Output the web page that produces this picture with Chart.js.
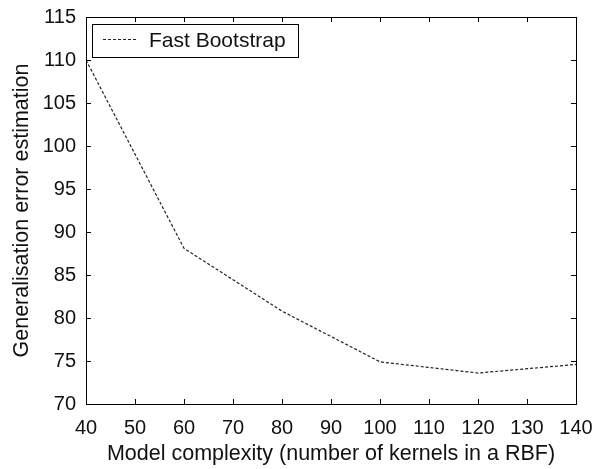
<!DOCTYPE html>
<html>
<head>
<meta charset="utf-8">
<script src="https://cdn.jsdelivr.net/npm/chart.js@4"></script>
<style>
  html, body { margin: 0; padding: 0; background: #fff; }
  #wrap { width: 594px; height: 469px; }
</style>
</head>
<body>
<div id="wrap"><canvas id="errChart" width="594" height="469"></canvas></div>
<script>
const kernels = [40, 60, 80, 100, 120, 140];
const fastBootstrap = [110, 88.1, 80.8, 74.9, 73.6, 74.6];
const xTicks = [40, 50, 60, 70, 80, 90, 100, 110, 120, 130, 140];
const yTicks = [70, 75, 80, 85, 90, 95, 100, 105, 110, 115];

const font = 'Liberation Sans, Arial, Helvetica, sans-serif';

// cadre + graduations vers l'intérieur, style matlab
const boxPlugin = {
  id: 'box',
  afterDraw(chart) {
    const { ctx, chartArea: a, scales } = chart;
    ctx.save();
    ctx.strokeStyle = '#000';
    ctx.lineWidth = 1;
    ctx.strokeRect(a.left + 0.5, a.top + 0.5, a.right - a.left, a.bottom - a.top);
    const len = 5;
    ctx.beginPath();
    xTicks.forEach(v => {
      const x = Math.round(scales.x.getPixelForValue(v)) + 0.5;
      ctx.moveTo(x, a.bottom); ctx.lineTo(x, a.bottom - len);
      ctx.moveTo(x, a.top); ctx.lineTo(x, a.top + len);
    });
    yTicks.forEach(v => {
      const y = Math.round(scales.y.getPixelForValue(v)) + 0.5;
      ctx.moveTo(a.left, y); ctx.lineTo(a.left + len, y);
      ctx.moveTo(a.right, y); ctx.lineTo(a.right - len, y);
    });
    ctx.stroke();

    // légende
    const lx = a.left + 6, ly = a.top + 7, lw = 206, lh = 33;
    ctx.fillStyle = '#fff';
    ctx.fillRect(lx, ly, lw, lh);
    ctx.strokeRect(lx + 0.5, ly + 0.5, lw, lh);
    ctx.setLineDash([3, 2]);
    ctx.strokeStyle = '#222';
    ctx.beginPath();
    ctx.moveTo(lx + 11, ly + 15.5);
    ctx.lineTo(lx + 45, ly + 15.5);
    ctx.stroke();
    ctx.setLineDash([]);
    ctx.fillStyle = '#111';
    ctx.font = '21px ' + font;
    ctx.textBaseline = 'middle';
    ctx.fillText(chart.data.datasets[0].label, lx + 57, ly + 17);
    ctx.restore();
  }
};

const ctx = document.getElementById('errChart').getContext('2d');
const errChart = new Chart(ctx, {
  type: 'line',
  data: {
    datasets: [{
      label: 'Fast Bootstrap',
      data: kernels.map((k, i) => ({ x: k, y: fastBootstrap[i] })),
      borderColor: '#222',
      borderWidth: 1.2,
      borderDash: [3, 2],
      pointRadius: 0,
      tension: 0,
      fill: false
    }]
  },
  options: {
    responsive: false,
    animation: false,
    layout: { padding: { top: 17, right: 18, left: 0, bottom: 0 } },
    plugins: { legend: { display: false }, tooltip: { enabled: false } },
    scales: {
      x: {
        type: 'linear',
        min: 40, max: 140,
        afterBuildTicks: s => { s.ticks = xTicks.map(v => ({ value: v })); },
        afterFit: s => { s.height = 65; s.paddingLeft = 0; s.paddingRight = 0; },
        grid: { display: false, drawTicks: false },
        border: { display: false },
        ticks: { color: '#111', font: { family: font, size: 20 }, padding: 12, maxRotation: 0, autoSkip: false },
        title: { display: true, text: 'Model complexity (number of kernels in a RBF)', color: '#111', font: { family: font, size: 21.5 }, padding: { top: 0, bottom: 2 } }
      },
      y: {
        type: 'linear',
        min: 70, max: 115,
        afterBuildTicks: s => { s.ticks = yTicks.map(v => ({ value: v })); },
        afterFit: s => { s.width = 86; s.paddingTop = 0; s.paddingBottom = 0; },
        grid: { display: false, drawTicks: false },
        border: { display: false },
        ticks: { color: '#111', font: { family: font, size: 20 }, padding: 10, autoSkip: false },
        title: { display: true, text: 'Generalisation error estimation', color: '#111', font: { family: font, size: 21.5 }, padding: { top: 9, bottom: 0 } }
      }
    }
  },
  plugins: [boxPlugin]
});
</script>
</body>
</html>
